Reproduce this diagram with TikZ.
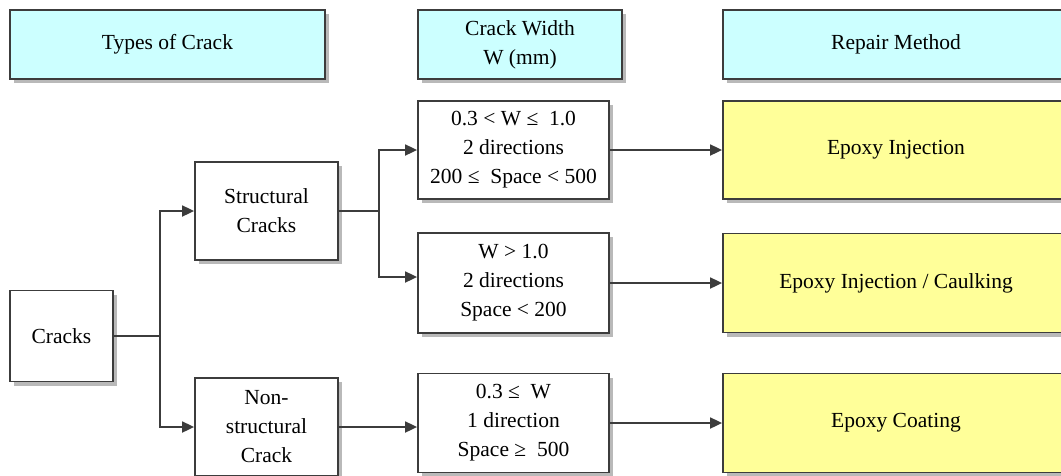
\documentclass[tikz,border=0pt]{standalone}
\usepackage{fontspec}
\setmainfont{Liberation Serif}
\usetikzlibrary{arrows.meta,shadows}
\definecolor{edge}{HTML}{3C3C3C}
\definecolor{headfill}{HTML}{CCFFFF}
\definecolor{repfill}{HTML}{FFFF99}
\tikzset{
  box/.style={draw=edge, line width=1.8pt, fill=white, align=center,
    inner sep=0pt, font=\fontsize{21.5}{29}\selectfont,
    drop shadow={shadow xshift=4pt, shadow yshift=-4pt,
      fill=gray!55, opacity=1}},
  head/.style={box, fill=headfill},
  repair/.style={box, fill=repfill},
  link/.style={draw=edge, line width=1.8pt},
  arr/.style={link, -{Triangle[length=12pt,width=11pt]}},
}
\begin{document}
\begin{tikzpicture}[x=1pt,y=-1pt]
\useasboundingbox (0,0) rectangle (1061,475);
\clip (0,0) rectangle (1061,475);

% column headers
\node[head, minimum width=315pt, minimum height=68.5pt] (h1) at (167.5,44.5) {Types of Crack};
\node[head, minimum width=204pt, minimum height=68.5pt] (h2) at (520,44.5) {Crack Width\\W (mm)};
\node[head, minimum width=346pt, minimum height=68.5pt] (h3) at (896,44.5) {Repair Method};

% crack types
\node[box, minimum width=103pt, minimum height=91pt] (cracks) at (61.5,336) {Cracks};
\node[box, minimum width=143pt, minimum height=98pt] (st) at (266.5,211) {Structural\\Cracks};
\node[box, minimum width=143pt, minimum height=98pt] (ns) at (266.5,427) {Non-\\structural\\Crack};

% crack width ranges
\node[box, minimum width=191pt, minimum height=98pt] (m1) at (513.5,150) {0.3 < W ≤\ \ 1.0\\2 directions\\200 ≤\ \ Space < 500};
\node[box, minimum width=191pt, minimum height=100pt] (m2) at (513.5,283) {W > 1.0\\2 directions\\Space < 200};
\node[box, minimum width=191pt, minimum height=99pt] (m3) at (513.5,423) {0.3 ≤\ \ W\\1 direction\\Space ≥\ \ 500};

% repair methods
\node[repair, minimum width=346pt, minimum height=98pt] (r1) at (896,150) {Epoxy Injection};
\node[repair, minimum width=346pt, minimum height=99pt] (r2) at (896,283) {Epoxy Injection / Caulking};
\node[repair, minimum width=346pt, minimum height=99pt] (r3) at (896,423) {Epoxy Coating};

% connectors
\coordinate (j1) at (160,336);
\draw[link] (cracks.east) -- (j1);
\draw[arr] (j1) |- (st.west);
\draw[arr] (j1) |- (ns.west);

\coordinate (j2) at (379,211);
\draw[link] (st.east) -- (j2);
\draw[arr] (j2) |- (m1.west);
\draw[arr] (j2) |- ([yshift=6pt]m2.west);
\draw[arr] (ns.east) -- (ns.east -| m3.west);

\draw[arr] (m1.east) -- (m1.east -| r1.west);
\draw[arr] (m2.east) -- (m2.east -| r2.west);
\draw[arr] (m3.east) -- (m3.east -| r3.west);
\end{tikzpicture}
\end{document}
